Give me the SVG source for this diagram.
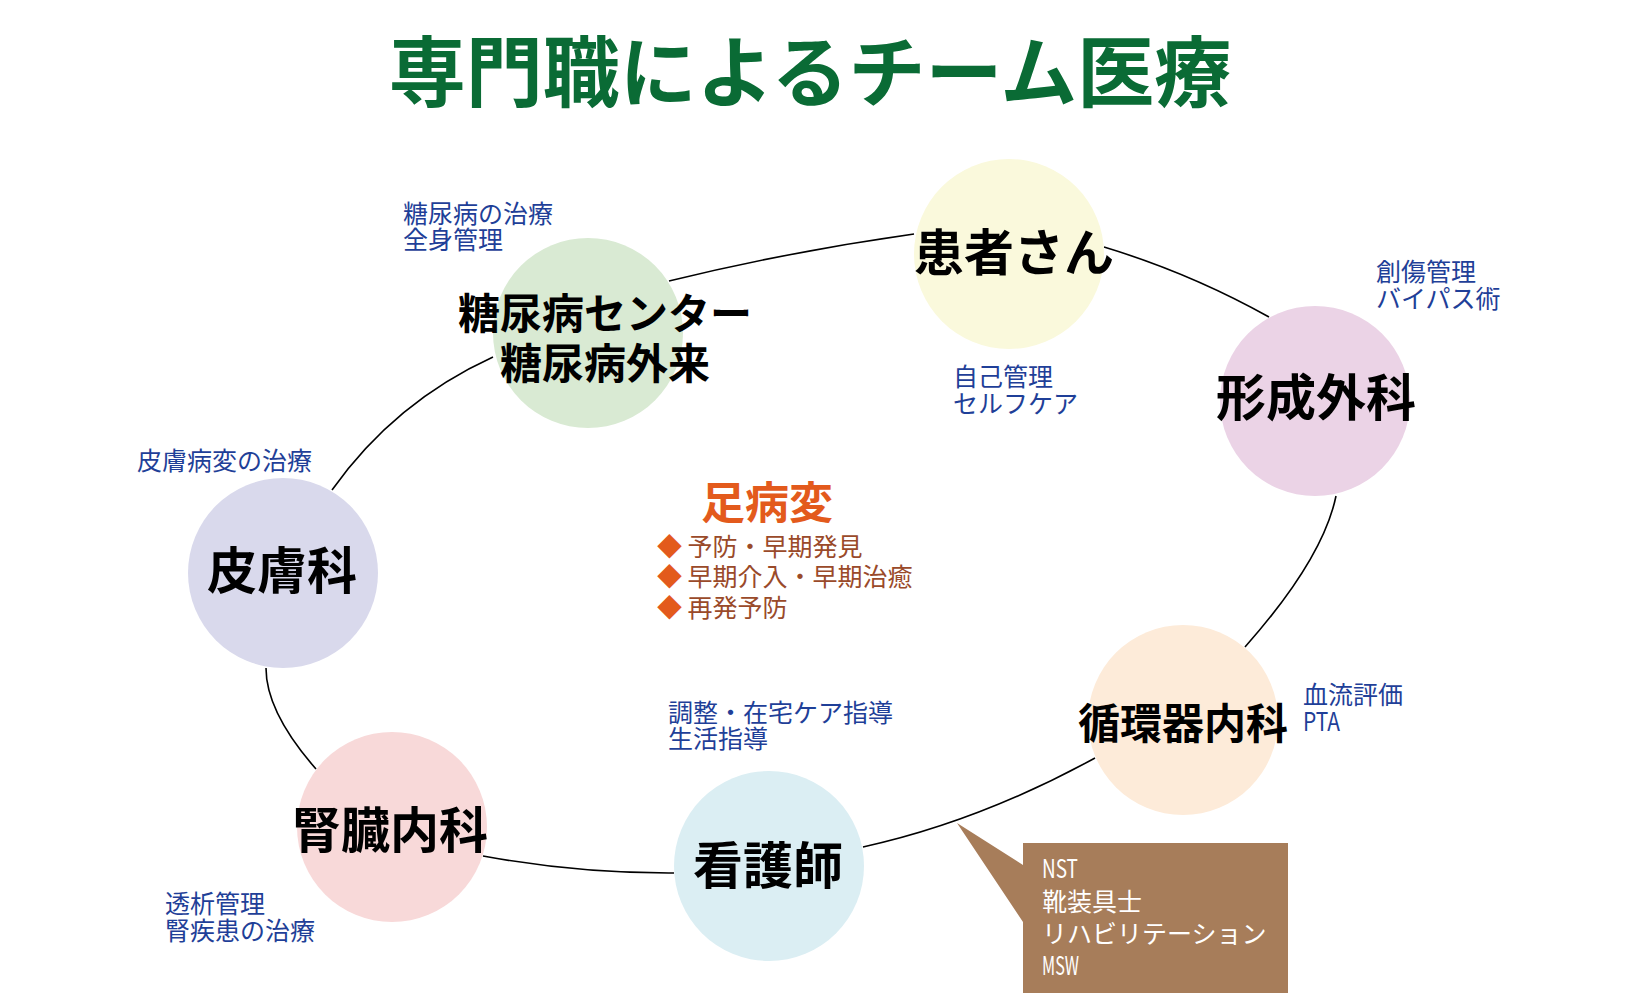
<svg xmlns="http://www.w3.org/2000/svg" width="1634" height="1006" viewBox="0 0 1634 1006">
<style>
.title{font-family:'Noto Sans CJK JP',sans-serif;font-weight:700;font-size:77px;fill:#0A6B35;text-anchor:middle}
.lbl{font-family:'Noto Sans CJK JP',sans-serif;font-weight:700;fill:#000;text-anchor:middle}
.note{font-family:'Noto Sans CJK JP',sans-serif;font-weight:400;font-size:25px;fill:#1F3F98}
.foot{font-family:'Noto Sans CJK JP',sans-serif;font-weight:700;font-size:44px;fill:#E35A1C;text-anchor:middle}
.item{font-family:'Noto Sans CJK JP',sans-serif;font-weight:400;font-size:25px;fill:#9A4A2A}
.dia{fill:#E35A1C}
.call{font-family:'Noto Sans CJK JP',sans-serif;font-weight:400;font-size:25px;fill:#FFFFFF}
.conn{fill:none;stroke:#000;stroke-width:1.6}
</style>
<rect width="1634" height="1006" fill="#FFFFFF"/>
<text class="title" x="810" y="101">専門職によるチーム医療</text>

<g id="connectors">
<path class="conn" d="M669,281 Q790,251.5 914,234"/>
<path class="conn" d="M1104,247 Q1190,273 1269,317"/>
<path class="conn" d="M1336,496 Q1323,559 1245,647"/>
<path class="conn" d="M1095,758 Q979,821.5 863,847"/>
<path class="conn" d="M674,873 Q578.5,873.5 483,856"/>
<path class="conn" d="M316,769 Q266,712 266,668"/>
<path class="conn" d="M332,490 Q394.5,402 493,357"/>
</g>

<g id="node-diabetes">
<circle cx="588" cy="333" r="95" fill="#D9EAD3"/>
<text class="lbl" x="605" y="329" font-size="42">糖尿病センター</text>
<text class="lbl" x="605" y="379" font-size="42">糖尿病外来</text>
</g>
<g id="node-patient">
<circle cx="1009" cy="254" r="95" fill="#FAF9DC"/>
<text class="lbl" x="1014" y="271" font-size="50">患者さん</text>
</g>
<g id="node-plastic">
<circle cx="1315" cy="401" r="95" fill="#EBD3E6"/>
<text class="lbl" x="1316" y="416" font-size="50">形成外科</text>
</g>
<g id="node-derma">
<circle cx="283" cy="573" r="95" fill="#D9D9EC"/>
<text class="lbl" x="282" y="589" font-size="50">皮膚科</text>
</g>
<g id="node-cardio">
<circle cx="1183" cy="720" r="95" fill="#FDEBD9"/>
<text class="lbl" x="1183" y="739" font-size="42">循環器内科</text>
</g>
<g id="node-nephro">
<circle cx="392" cy="827" r="95" fill="#F8D9D9"/>
<text class="lbl" x="390" y="848" font-size="49">腎臓内科</text>
</g>
<g id="node-nurse">
<circle cx="769" cy="866" r="95" fill="#DBEEF3"/>
<text class="lbl" x="768" y="884" font-size="50">看護師</text>
</g>

<g id="notes">
<text class="note" x="403" y="223">糖尿病の治療</text>
<text class="note" x="403" y="249">全身管理</text>
<text class="note" x="953" y="386">自己管理</text>
<text class="note" x="953" y="413">セルフケア</text>
<text class="note" x="1376" y="281">創傷管理</text>
<text class="note" x="1376" y="308">バイパス術</text>
<text class="note" x="137" y="470">皮膚病変の治療</text>
<text class="note" x="1303" y="704">血流評価</text>
<text class="note" x="1303" y="731" textLength="37" lengthAdjust="spacingAndGlyphs">PTA</text>
<text class="note" x="165" y="913">透析管理</text>
<text class="note" x="165" y="940">腎疾患の治療</text>
<text class="note" x="668" y="722">調整・在宅ケア指導</text>
<text class="note" x="668" y="748">生活指導</text>
</g>

<g id="foot-disease">
<text class="foot" x="767" y="519">足病変</text>
<text class="item" x="657" y="556"><tspan class="dia">◆</tspan> 予防・早期発見</text>
<text class="item" x="657" y="586"><tspan class="dia">◆</tspan> 早期介入・早期治癒</text>
<text class="item" x="657" y="617"><tspan class="dia">◆</tspan> 再発予防</text>
</g>

<g id="callout">
<path d="M957,823 L1023,865 L1023,843 L1288,843 L1288,993 L1023,993 L1023,922 Z" fill="#A77D5A"/>
<text class="call" x="1042" y="878" textLength="36" lengthAdjust="spacingAndGlyphs">NST</text>
<text class="call" x="1042" y="911">靴装具士</text>
<text class="call" x="1042" y="943">リハビリテーション</text>
<text class="call" x="1042" y="975" textLength="37" lengthAdjust="spacingAndGlyphs">MSW</text>
</g>
</svg>
